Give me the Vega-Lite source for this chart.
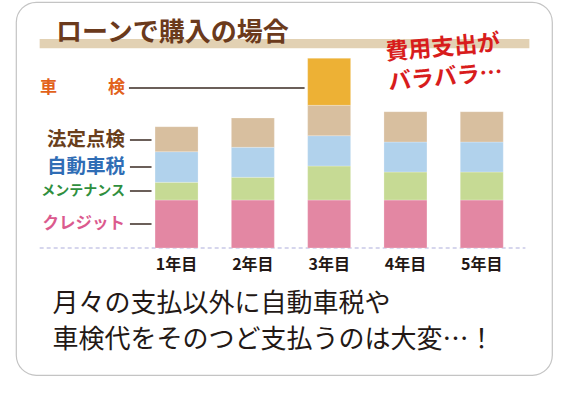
{
  "$schema": "https://vega.github.io/schema/vega-lite/v6.json",
  "width": 580,
  "height": 398,
  "autosize": {"type": "fit", "contains": "padding"},
  "padding": {"left": 16, "top": 2, "right": 28, "bottom": 23},
  "background": "#ffffff",
  "config": {
    "view": {"fill": "#ffffff", "stroke": "#c4c4c4", "strokeWidth": 1.2, "cornerRadius": 20},
    "font": "Noto Sans CJK JP"
  },
  "datasets": {
    "bars": [
      {"year": 1, "ylabel": "1年目", "cat": "クレジット", "order": 1, "v": 48},
      {"year": 1, "ylabel": "1年目", "cat": "メンテナンス", "order": 2, "v": 17.7},
      {"year": 1, "ylabel": "1年目", "cat": "自動車税", "order": 3, "v": 30.6},
      {"year": 1, "ylabel": "1年目", "cat": "法定点検", "order": 4, "v": 25},
      {"year": 2, "ylabel": "2年目", "cat": "クレジット", "order": 1, "v": 48},
      {"year": 2, "ylabel": "2年目", "cat": "メンテナンス", "order": 2, "v": 22.7},
      {"year": 2, "ylabel": "2年目", "cat": "自動車税", "order": 3, "v": 30},
      {"year": 2, "ylabel": "2年目", "cat": "法定点検", "order": 4, "v": 29.3},
      {"year": 3, "ylabel": "3年目", "cat": "クレジット", "order": 1, "v": 48},
      {"year": 3, "ylabel": "3年目", "cat": "メンテナンス", "order": 2, "v": 34},
      {"year": 3, "ylabel": "3年目", "cat": "自動車税", "order": 3, "v": 30.3},
      {"year": 3, "ylabel": "3年目", "cat": "法定点検", "order": 4, "v": 30.4},
      {"year": 3, "ylabel": "3年目", "cat": "車検", "order": 5, "v": 47},
      {"year": 4, "ylabel": "4年目", "cat": "クレジット", "order": 1, "v": 48},
      {"year": 4, "ylabel": "4年目", "cat": "メンテナンス", "order": 2, "v": 28},
      {"year": 4, "ylabel": "4年目", "cat": "自動車税", "order": 3, "v": 30},
      {"year": 4, "ylabel": "4年目", "cat": "法定点検", "order": 4, "v": 30.3},
      {"year": 5, "ylabel": "5年目", "cat": "クレジット", "order": 1, "v": 48},
      {"year": 5, "ylabel": "5年目", "cat": "メンテナンス", "order": 2, "v": 28},
      {"year": 5, "ylabel": "5年目", "cat": "自動車税", "order": 3, "v": 30},
      {"year": 5, "ylabel": "5年目", "cat": "法定点検", "order": 4, "v": 30.3}
    ],
    "labels": [
      {"cat": "車検", "text": "車　　　検", "y": 160},
      {"cat": "法定点検", "text": "法定点検", "y": 108},
      {"cat": "自動車税", "text": "自動車税", "y": 81},
      {"cat": "メンテナンス", "text": "メンテナンス", "y": 57},
      {"cat": "クレジット", "text": "クレジット", "y": 24}
    ],
    "notes": [
      {"kind": "title", "text": "ローンで購入の場合"},
      {"kind": "red", "text": ["費用支出が", "バラバラ…"]},
      {"kind": "foot1", "text": "月々の支払以外に自動車税や"},
      {"kind": "foot2", "text": "車検代をそのつど支払うのは大変…！"}
    ]
  },
  "resolve": {"scale": {"color": "independent", "size": "independent"}},
  "layer": [
    {
      "data": {"name": "notes"},
      "transform": [{"filter": "datum.kind == 'title'"}],
      "mark": {"type": "rect", "color": "#E2D1B3"},
      "encoding": {
        "x": {"datum": -0.794, "type": "quantitative", "scale": {"domain": [-1.0386, 5.855], "nice": false, "zero": false}, "axis": null},
        "x2": {"datum": 5.624},
        "y": {"datum": 209, "type": "quantitative", "scale": {"domain": [-127, 246], "nice": false, "zero": false}, "axis": null},
        "y2": {"datum": 199.7}
      }
    },
    {
      "data": {"name": "notes"},
      "transform": [{"filter": "datum.kind == 'title'"}],
      "mark": {"type": "text", "align": "left", "baseline": "middle", "fontSize": 26, "fontWeight": "bold", "color": "#6B3A1C"},
      "encoding": {
        "x": {"datum": -0.58, "type": "quantitative", "scale": {"domain": [-1.0386, 5.855], "nice": false, "zero": false}, "axis": null},
        "y": {"datum": 215, "type": "quantitative", "scale": {"domain": [-127, 246], "nice": false, "zero": false}, "axis": null},
        "text": {"field": "text"}
      }
    },
    {
      "data": {"name": "notes"},
      "transform": [{"filter": "datum.kind == 'title'"}],
      "mark": {"type": "rule", "color": "#C9C9E8", "strokeWidth": 1.5, "strokeDash": [4, 3]},
      "encoding": {
        "x": {"datum": -0.794, "type": "quantitative", "scale": {"domain": [-1.0386, 5.855], "nice": false, "zero": false}, "axis": null},
        "x2": {"datum": 5.572},
        "y": {"datum": 0, "type": "quantitative", "scale": {"domain": [-127, 246], "nice": false, "zero": false}, "axis": null}
      }
    },
    {
      "data": {"name": "bars"},
      "mark": {"type": "bar", "width": 43, "stroke": "#ffffff", "strokeWidth": 0.4, "strokeOpacity": 0.6},
      "encoding": {
        "x": {"field": "year", "type": "quantitative", "scale": {"domain": [-1.0386, 5.855], "nice": false, "zero": false}, "axis": null},
        "y": {"field": "v", "type": "quantitative", "stack": "zero", "scale": {"domain": [-127, 246], "nice": false, "zero": false}, "axis": null},
        "color": {"field": "cat", "type": "nominal", "scale": {"domain": ["クレジット", "メンテナンス", "自動車税", "法定点検", "車検"], "range": ["#E387A3", "#C6DA94", "#B1D2EC", "#D8BF9F", "#EDB135"]}, "legend": null},
        "order": {"field": "order", "type": "quantitative"}
      }
    },
    {
      "data": {"name": "bars"},
      "transform": [{"filter": "datum.cat == 'クレジット'"}],
      "mark": {"type": "text", "align": "center", "baseline": "middle", "fontSize": 16, "fontWeight": "bold", "color": "#231815"},
      "encoding": {
        "x": {"field": "year", "type": "quantitative", "scale": {"domain": [-1.0386, 5.855], "nice": false, "zero": false}, "axis": null},
        "y": {"datum": -17, "type": "quantitative", "scale": {"domain": [-127, 246], "nice": false, "zero": false}, "axis": null},
        "text": {"field": "ylabel"}
      }
    },
    {
      "data": {"name": "labels"},
      "mark": {"type": "text", "align": "right", "baseline": "middle", "fontWeight": "bold"},
      "encoding": {
        "x": {"datum": 0.325, "type": "quantitative", "scale": {"domain": [-1.0386, 5.855], "nice": false, "zero": false}, "axis": null},
        "y": {"field": "y", "type": "quantitative", "scale": {"domain": [-127, 246], "nice": false, "zero": false}, "axis": null},
        "text": {"field": "text"},
        "color": {"field": "cat", "type": "nominal", "scale": {"domain": ["クレジット", "メンテナンス", "自動車税", "法定点検", "車検"], "range": ["#DB5A8E", "#2F8F3E", "#2F6DB5", "#6A3F1C", "#E2621B"]}, "legend": null},
        "size": {"field": "cat", "type": "nominal", "scale": {"type": "ordinal", "domain": ["クレジット", "メンテナンス", "自動車税", "法定点検", "車検"], "range": [16.5, 14, 19.5, 19.5, 17]}, "legend": null}
      }
    },
    {
      "data": {"name": "labels"},
      "transform": [{"filter": "datum.cat != '車検'"}],
      "mark": {"type": "rule", "color": "#3A2A22", "strokeWidth": 1.5},
      "encoding": {
        "x": {"datum": 0.389, "type": "quantitative", "scale": {"domain": [-1.0386, 5.855], "nice": false, "zero": false}, "axis": null},
        "x2": {"datum": 0.672},
        "y": {"field": "y", "type": "quantitative", "scale": {"domain": [-127, 246], "nice": false, "zero": false}, "axis": null}
      }
    },
    {
      "data": {"name": "labels"},
      "transform": [{"filter": "datum.cat == '車検'"}],
      "mark": {"type": "rule", "color": "#3A2A22", "strokeWidth": 1.5},
      "encoding": {
        "x": {"datum": 0.376, "type": "quantitative", "scale": {"domain": [-1.0386, 5.855], "nice": false, "zero": false}, "axis": null},
        "x2": {"datum": 2.678},
        "y": {"field": "y", "type": "quantitative", "scale": {"domain": [-127, 246], "nice": false, "zero": false}, "axis": null}
      }
    },
    {
      "data": {"name": "notes"},
      "transform": [{"filter": "datum.kind == 'red'"}],
      "mark": {"type": "text", "align": "center", "baseline": "middle", "fontSize": 23, "fontWeight": "bold", "color": "#D81C1C", "angle": -5, "lineHeight": 30},
      "encoding": {
        "x": {"datum": 4.49, "type": "quantitative", "scale": {"domain": [-1.0386, 5.855], "nice": false, "zero": false}, "axis": null},
        "y": {"datum": 200, "type": "quantitative", "scale": {"domain": [-127, 246], "nice": false, "zero": false}, "axis": null},
        "text": {"field": "text"}
      }
    },
    {
      "data": {"name": "notes"},
      "transform": [{"filter": "datum.kind == 'foot1'"}],
      "mark": {"type": "text", "align": "left", "baseline": "middle", "fontSize": 26, "fontWeight": "normal", "color": "#231815"},
      "encoding": {
        "x": {"datum": -0.627, "type": "quantitative", "scale": {"domain": [-1.0386, 5.855], "nice": false, "zero": false}, "axis": null},
        "y": {"datum": -56, "type": "quantitative", "scale": {"domain": [-127, 246], "nice": false, "zero": false}, "axis": null},
        "text": {"field": "text"}
      }
    },
    {
      "data": {"name": "notes"},
      "transform": [{"filter": "datum.kind == 'foot2'"}],
      "mark": {"type": "text", "align": "left", "baseline": "middle", "fontSize": 26, "fontWeight": "normal", "color": "#231815"},
      "encoding": {
        "x": {"datum": -0.627, "type": "quantitative", "scale": {"domain": [-1.0386, 5.855], "nice": false, "zero": false}, "axis": null},
        "y": {"datum": -92, "type": "quantitative", "scale": {"domain": [-127, 246], "nice": false, "zero": false}, "axis": null},
        "text": {"field": "text"}
      }
    }
  ]
}
